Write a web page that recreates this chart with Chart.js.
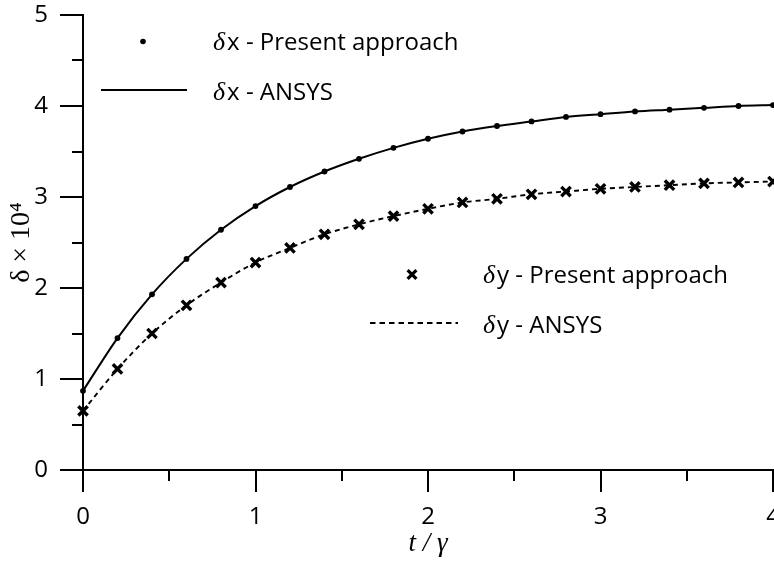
<!DOCTYPE html>
<html><head><meta charset="utf-8">
<script src="https://cdn.jsdelivr.net/npm/chart.js@4/dist/chart.umd.min.js"></script>
<style>html,body{margin:0;padding:0;overflow:hidden;background:#fff}canvas{display:block}</style>
</head><body>
<canvas id="c" width="800" height="562"></canvas>
<script>
// ---- data ----
const tValues    = [0, 0.2, 0.4, 0.6, 0.8, 1.0, 1.2, 1.4, 1.6, 1.8, 2.0, 2.2, 2.4, 2.6, 2.8, 3.0, 3.2, 3.4, 3.6, 3.8, 4.0];
const dxPresent  = [0.87, 1.45, 1.93, 2.32, 2.64, 2.90, 3.11, 3.28, 3.42, 3.54, 3.64, 3.72, 3.78, 3.83, 3.88, 3.91, 3.94, 3.96, 3.98, 4.00, 4.01];
const dxAnsys    = [0.87, 1.45, 1.93, 2.32, 2.64, 2.90, 3.11, 3.28, 3.42, 3.54, 3.64, 3.72, 3.78, 3.83, 3.88, 3.91, 3.94, 3.96, 3.98, 4.00, 4.01];
const dyPresent  = [0.65, 1.11, 1.50, 1.81, 2.06, 2.28, 2.44, 2.59, 2.70, 2.79, 2.87, 2.94, 2.98, 3.03, 3.06, 3.09, 3.11, 3.13, 3.15, 3.16, 3.17];
const dyAnsys    = [0.65, 1.11, 1.50, 1.81, 2.06, 2.28, 2.44, 2.59, 2.70, 2.79, 2.87, 2.94, 2.98, 3.03, 3.06, 3.09, 3.11, 3.13, 3.15, 3.16, 3.17];
const xMajorTicks = [0, 1, 2, 3, 4];
const xMinorTicks = [0.5, 1.5, 2.5, 3.5];
const yMajorTicks = [0, 1, 2, 3, 4, 5];
const yMinorTicks = [0.5, 1.5, 2.5, 3.5, 4.5];
const legendSymbol = ['δ', 'δ', 'δ', 'δ'];
const legendText   = ['x - Present approach', 'x - ANSYS', 'y - Present approach', 'y - ANSYS'];
const xTitle = 't / γ';
const yTitle = 'δ × 10⁴';

const pts = (ys) => tValues.map((t, i) => ({x: t, y: ys[i]}));
const SANS = "'Open Sans', 'Noto Sans', sans-serif";
const SERIF = "'Liberation Serif', 'DejaVu Serif', serif";

const ticksPlugin = {
  id: 'minorMajorTicks',
  afterDraw(chart) {
    const ctx = chart.ctx, xs = chart.scales.x, ys = chart.scales.y;
    const x0 = xs.left, y0 = ys.bottom;
    ctx.save();
    ctx.strokeStyle = '#000';
    ctx.lineWidth = 2;
    ctx.beginPath();
    xMajorTicks.forEach(v => { const p = Math.round(xs.getPixelForValue(v)); ctx.moveTo(p, y0); ctx.lineTo(p, y0 + 22); });
    xMinorTicks.forEach(v => { const p = Math.round(xs.getPixelForValue(v)); ctx.moveTo(p, y0); ctx.lineTo(p, y0 + 11); });
    yMajorTicks.forEach(v => { const p = Math.round(ys.getPixelForValue(v)); ctx.moveTo(x0, p); ctx.lineTo(x0 - 23, p); });
    yMinorTicks.forEach(v => { const p = Math.round(ys.getPixelForValue(v)); ctx.moveTo(x0, p); ctx.lineTo(x0 - 11, p); });
    ctx.stroke();
    ctx.restore();
  }
};

const legendPlugin = {
  id: 'customLegend',
  afterDraw(chart) {
    const ctx = chart.ctx;
    ctx.save();
    ctx.fillStyle = '#000';
    ctx.strokeStyle = '#000';
    const label = (x, base, i) => {
      ctx.textBaseline = 'alphabetic';
      ctx.textAlign = 'left';
      ctx.font = 'italic 26px ' + SERIF;
      ctx.fillText(legendSymbol[i], x, base);
      const w = ctx.measureText(legendSymbol[i]).width;
      ctx.font = '24px ' + SANS;
      ctx.fillText(legendText[i], x + w + 2, base);
    };
    // row 1: dot
    ctx.beginPath(); ctx.arc(143, 41.5, 2.8, 0, Math.PI * 2); ctx.fill();
    label(213, 50, 0);
    // row 2: solid line
    ctx.lineWidth = 2;
    ctx.beginPath(); ctx.moveTo(101, 90); ctx.lineTo(187, 90); ctx.stroke();
    label(213, 100, 1);
    // row 3: cross
    ctx.lineWidth = 3.2;
    const cx = 412, cy = 274.5, r = 4.4;
    ctx.beginPath(); ctx.moveTo(cx - r, cy - r); ctx.lineTo(cx + r, cy + r); ctx.moveTo(cx + r, cy - r); ctx.lineTo(cx - r, cy + r); ctx.stroke();
    label(483, 283, 2);
    // row 4: dashed line
    ctx.lineWidth = 1.8;
    ctx.setLineDash([5.5, 4]);
    ctx.beginPath(); ctx.moveTo(370, 323); ctx.lineTo(458, 323); ctx.stroke();
    ctx.setLineDash([]);
    label(483, 333, 3);
    ctx.restore();
  }
};

new Chart(document.getElementById('c'), {
  type: 'scatter',
  data: {
    datasets: [
      { label: 'δx - Present approach', data: pts(dxPresent), showLine: false,
        pointRadius: 2.9, pointBackgroundColor: '#000', pointBorderWidth: 0, clip: false },
      { label: 'δy - Present approach', data: pts(dyPresent), showLine: false,
        pointStyle: 'crossRot', pointRadius: 6.6, pointBorderWidth: 3.4, pointBorderColor: '#000', borderColor: '#000', clip: false },
      { label: 'δx - ANSYS', data: pts(dxAnsys), showLine: true, borderColor: '#000', borderWidth: 2,
        pointRadius: 0, cubicInterpolationMode: 'monotone', fill: false, clip: false },
      { label: 'δy - ANSYS', data: pts(dyAnsys), showLine: true, borderColor: '#000', borderWidth: 1.9,
        borderDash: [5, 4], pointRadius: 0, cubicInterpolationMode: 'monotone', fill: false, clip: false }
    ]
  },
  options: {
    responsive: false,
    devicePixelRatio: 1,
    animation: false,
    layout: { padding: { top: 15, right: 27, left: 0, bottom: 0 } },
    plugins: { legend: { display: false }, tooltip: { enabled: false } },
    scales: {
      x: {
        type: 'linear', min: 0, max: 4,
        afterFit(s) { s.height = 92; s.paddingLeft = 0; s.paddingRight = 0; },
        grid: { display: false, drawTicks: false },
        border: { display: true, color: '#000', width: 2 },
        ticks: { stepSize: 1, padding: 33, color: '#000', font: { family: SANS, size: 24 }, maxRotation: 0 },
        title: { display: true, text: xTitle, color: '#000', font: { family: SERIF, style: 'italic', size: 27 }, padding: { top: 0, bottom: 2 } }
      },
      y: {
        type: 'linear', min: 0, max: 5,
        afterFit(s) { s.width = 83; s.paddingTop = 0; s.paddingBottom = 0; },
        grid: { display: false, drawTicks: false },
        border: { display: true, color: '#000', width: 2 },
        ticks: { stepSize: 1, padding: 35, color: '#000', font: { family: SANS, size: 24 } },
        title: { display: true, text: yTitle, color: '#000', font: { family: SERIF, size: 28 }, padding: { top: 5, bottom: 0 } }
      }
    }
  },
  plugins: [ticksPlugin, legendPlugin]
});
</script>
</body></html>
